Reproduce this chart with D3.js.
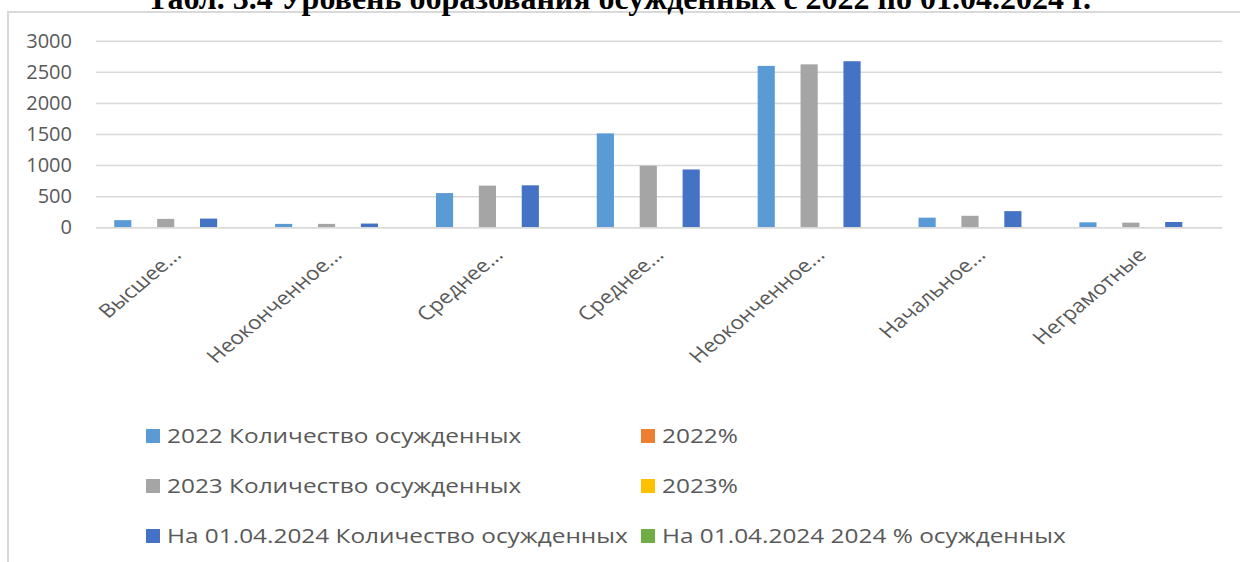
<!doctype html>
<html lang="ru">
<head>
  <meta charset="utf-8">
  <title>Уровень образования осужденных</title>
  <style>
    * { margin: 0; padding: 0; box-sizing: border-box; }
    body { background: #fff; }
    svg { display: block; }
  </style>
</head>
<body>
  <div class="chart"></div>
  <script src="https://cdn.jsdelivr.net/npm/d3@7"></script>
  <script>
    // ---------------------------------------------------------------
    //@@ data
    const categories = ['Высшее...', 'Неоконченное...', 'Среднее...', 'Среднее...',
      'Неоконченное...', 'Начальное...', 'Неграмотные'];
    const seriesNames = ['2022 Количество осужденных', '2022%', '2023 Количество осужденных',
      '2023%', 'На 01.04.2024 Количество осужденных', 'На 01.04.2024 2024 % осужденных'];
    const count2022 = [115, 55, 550, 1510, 2595, 155, 80];
    const pct2022 = [0.022, 0.011, 0.11, 0.30, 0.515, 0.03, 0.014];
    const count2023 = [135, 55, 670, 990, 2620, 185, 75];
    const pct2023 = [0.028, 0.012, 0.14, 0.21, 0.55, 0.04, 0.015];
    const count2024 = [140, 60, 675, 930, 2670, 260, 85];
    const pct2024 = [0.029, 0.012, 0.14, 0.195, 0.56, 0.055, 0.017];
    const yTicks = [0, 500, 1000, 1500, 2000, 2500, 3000];
    const title = 'Табл. 3.4 Уровень образования осужденных с 2022  по 01.04.2024 г.';

    const colors = ['#5B9BD5', '#ED7D31', '#A5A5A5', '#FFC000', '#4472C4', '#70AD47'];
    const seriesValues = [count2022, pct2022, count2023, pct2023, count2024, pct2024];

    // ---------------------------------------------------------------
    //@@ svg
    const W = 1240, H = 562;
    const svg = d3.select('.chart').append('svg')
      .attr('width', W)
      .attr('height', H);

    //@@ chart frame (extends past the window on right / bottom)
    svg.append('rect')
      .attr('x', 8).attr('y', 12)
      .attr('width', 1260).attr('height', 600)
      .attr('fill', 'none')
      .attr('stroke', '#d9d9d9')
      .attr('stroke-width', 2);

    //@@ title, mostly cut off above the top edge (as in the source image)
    svg.append('text')
      .attr('x', 619).attr('y', 9)
      .attr('text-anchor', 'middle')
      .style('font-family', '"Liberation Serif", "Times New Roman", serif')
      .style('font-weight', 'bold')
      .style('font-size', '32px')
      .attr('fill', '#000')
      .text(title);

    //@@ scales
    const plot = {l: 96, r: 1222, t: 40.7, b: 227.3};
    const x0 = d3.scaleBand()
      .domain(d3.range(categories.length))
      .range([plot.l, plot.r])
      .paddingInner(0.2)
      .paddingOuter(0.1);
    const x1 = d3.scaleBand()
      .domain(d3.range(seriesNames.length))
      .range([0, x0.bandwidth()])
      .paddingInner(0.2)
      .paddingOuter(0.1);
    const y = d3.scaleLinear().domain([0, 3000]).range([plot.b, plot.t]);

    //@@ gridlines + y labels
    const axisY = d3.axisLeft(y)
      .tickValues(yTicks)
      .tickSize(-(plot.r - plot.l))
      .tickPadding(24)
      .tickFormat(d3.format('d'));
    const gY = svg.append('g')
      .attr('transform', `translate(${plot.l},0)`)
      .call(axisY);
    gY.select('.domain').remove();
    gY.selectAll('line').attr('stroke', '#d9d9d9').attr('stroke-width', 1.5);
    gY.selectAll('text')
      .attr('fill', '#595959')
      .style('font-family', '"Open Sans", sans-serif')
      .style('font-size', '20px');

    //@@ bars
    const groups = svg.append('g').selectAll('g')
      .data(categories.map((c, i) => i))
      .join('g')
      .attr('transform', i => `translate(${x0(i)},0)`);

    groups.selectAll('rect')
      .data(i => seriesValues.map((vals, s) => ({s, v: vals[i]})))
      .join('rect')
      .attr('x', d => x1(d.s))
      .attr('width', x1.bandwidth())
      .attr('y', d => y(d.v))
      .attr('height', d => y(0) - y(d.v))
      .attr('fill', d => colors[d.s]);

    //@@ x axis labels, rotated (source image is slightly stretched sideways)
    const axisX = d3.axisBottom(x0)
      .tickSize(0)
      .tickFormat(i => categories[i]);
    const gX = svg.append('g')
      .attr('transform', `translate(0,${plot.b})`)
      .call(axisX);
    gX.select('.domain').attr('stroke', '#d9d9d9').attr('stroke-width', 1.5);
    gX.selectAll('text')
      .attr('fill', '#595959')
      .style('font-family', '"Open Sans", sans-serif')
      .style('font-size', '19px')
      .style('text-anchor', 'end')
      .attr('y', 0)
      .attr('dy', 0)
      .attr('transform', 'translate(6,29) scale(1.18,1) rotate(-45)');

    //@@ legend
    const legendPos = [[146, 436], [641, 436], [146, 486], [641, 486], [146, 536], [641, 536]];
    const legend = svg.append('g').selectAll('g')
      .data(seriesNames.map((n, s) => s))
      .join('g')
      .attr('transform', s => `translate(${legendPos[s][0]},${legendPos[s][1]})`);
    legend.append('rect')
      .attr('x', 0).attr('y', -7)
      .attr('width', 14).attr('height', 14)
      .attr('fill', s => colors[s]);
    legend.append('text')
      .attr('transform', 'translate(21,0) scale(1.22,1)')
      .attr('dy', '0.36em')
      .attr('fill', '#595959')
      .style('font-family', '"Open Sans", sans-serif')
      .style('font-size', '20px')
      .text(s => seriesNames[s]);
  </script>
</body>
</html>
